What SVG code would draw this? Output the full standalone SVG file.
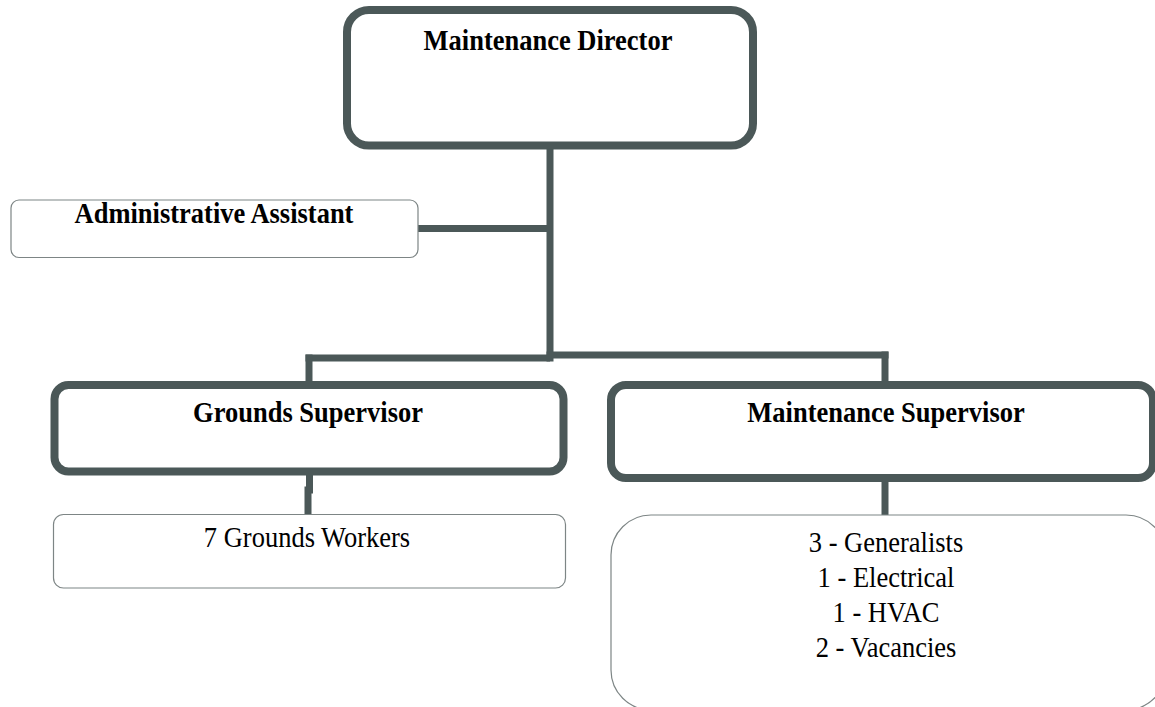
<svg xmlns="http://www.w3.org/2000/svg" width="1155" height="707" viewBox="0 0 1155 707">
  <style>
    .thick { fill: #ffffff; stroke: #4b5858; stroke-width: 8; }
    .thin { fill: #ffffff; stroke: #7d8585; stroke-width: 1.2; }
    .conn { fill: none; stroke: #4b5858; stroke-width: 7; stroke-linecap: butt; }
    .b { font-family: "Liberation Serif", "Times New Roman", serif; font-weight: bold; font-size: 26.5px; fill: #000; text-anchor: middle; }
    .r { font-family: "Liberation Serif", "Times New Roman", serif; font-size: 26.5px; fill: #000; text-anchor: middle; }
  </style>
  <rect width="1155" height="707" fill="#ffffff"/>

  <g id="connectors">
    <line class="conn" x1="550" y1="145" x2="550" y2="361.5"/>
    <line class="conn" x1="418" y1="228.5" x2="550" y2="228.5"/>
    <line class="conn" x1="305.5" y1="358" x2="550" y2="358"/>
    <line class="conn" x1="546.5" y1="355" x2="888.5" y2="355"/>
    <line class="conn" x1="309" y1="354.5" x2="309" y2="385"/>
    <line class="conn" x1="885" y1="351.5" x2="885" y2="385"/>
    <polyline class="conn" points="309.5,471 309.5,490 308,490 308,514.5"/>
    <line class="conn" x1="885" y1="478" x2="885" y2="515"/>
  </g>

  <g id="director">
    <rect class="thick" x="347" y="10" width="406" height="135.5" rx="22"/>
    <text class="b" transform="translate(548,50) scale(1,1.1)">Maintenance Director</text>
  </g>

  <g id="admin-assistant">
    <rect class="thin" x="11" y="200" width="407" height="57.5" rx="8"/>
    <text class="b" transform="translate(214,223) scale(1,1.1)">Administrative Assistant</text>
  </g>

  <g id="grounds-supervisor">
    <rect class="thick" x="54.5" y="385" width="509" height="86.5" rx="14"/>
    <text class="b" transform="translate(308,422) scale(1,1.1)">Grounds Supervisor</text>
  </g>

  <g id="maintenance-supervisor">
    <rect class="thick" x="611" y="385" width="542" height="93" rx="15"/>
    <text class="b" transform="translate(886,422) scale(1,1.1)">Maintenance Supervisor</text>
  </g>

  <g id="grounds-workers">
    <rect class="thin" x="53.5" y="514.5" width="512" height="73.5" rx="10"/>
    <text class="r" transform="translate(307,547) scale(1,1.1)">7 Grounds Workers</text>
  </g>

  <g id="maintenance-staff">
    <rect class="thin" x="611" y="515" width="555" height="195" rx="40"/>
    <text class="r" transform="translate(886,552) scale(1,1.1)">3 - Generalists</text>
    <text class="r" transform="translate(886,587) scale(1,1.1)">1 - Electrical</text>
    <text class="r" transform="translate(886,622) scale(1,1.1)">1 - HVAC</text>
    <text class="r" transform="translate(886,657) scale(1,1.1)">2 - Vacancies</text>
  </g>
</svg>
